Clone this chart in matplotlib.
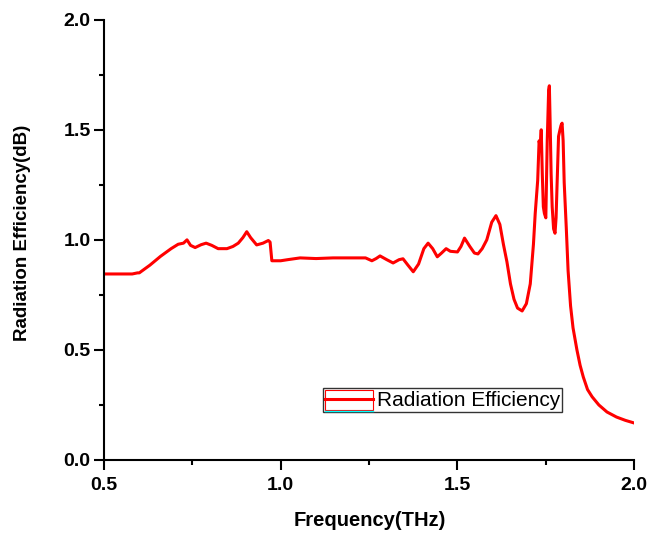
import matplotlib
matplotlib.use("Agg")
import matplotlib.pyplot as plt
import matplotlib.ticker as mticker
from matplotlib.patches import Rectangle
from matplotlib.lines import Line2D

RED = "#ff0000"
CYAN = "#00ffff"

plt.rcParams.update({
    "font.family": ["Liberation Sans", "DejaVu Sans"],
    "axes.linewidth": 1.5,
})

# frequency (THz) and radiation efficiency samples
freq = [
    0.50, 0.55, 0.58, 0.595, 0.60, 0.63, 0.66, 0.69, 0.71, 0.725,
    0.735, 0.745, 0.758, 0.775, 0.789, 0.805, 0.823, 0.848, 0.865, 0.88,
    0.893, 0.904, 0.915, 0.932, 0.95, 0.965, 0.97, 0.975, 1.00, 1.02,
    1.055, 1.10, 1.148, 1.20, 1.24, 1.258, 1.27, 1.281, 1.30, 1.318,
    1.335, 1.346, 1.36, 1.375, 1.39, 1.405, 1.417, 1.43, 1.443, 1.455,
    1.468, 1.48, 1.50, 1.51, 1.52, 1.535, 1.548, 1.558, 1.57, 1.583,
    1.597, 1.609, 1.62, 1.63, 1.64, 1.65, 1.66, 1.67, 1.683, 1.695,
    1.706, 1.715, 1.72, 1.727, 1.731, 1.734, 1.737, 1.740, 1.743, 1.746,
    1.750, 1.754, 1.758, 1.760, 1.762, 1.765, 1.768, 1.772, 1.776, 1.779,
    1.782, 1.786, 1.790, 1.793, 1.796, 1.799, 1.802, 1.808, 1.813, 1.82,
    1.827, 1.838, 1.847, 1.856, 1.868, 1.881, 1.90, 1.923, 1.95, 1.975,
    2.00,
]
efficiency = [
    0.845, 0.845, 0.845, 0.85, 0.85, 0.885, 0.925, 0.96, 0.98, 0.985,
    1.00, 0.975, 0.965, 0.978, 0.985, 0.975, 0.96, 0.96, 0.97, 0.985,
    1.01, 1.037, 1.01, 0.977, 0.985, 0.997, 0.99, 0.905, 0.905, 0.91,
    0.918, 0.915, 0.918, 0.918, 0.918, 0.905, 0.915, 0.927, 0.91, 0.895,
    0.91, 0.914, 0.885, 0.855, 0.89, 0.96, 0.985, 0.96, 0.923, 0.94,
    0.96, 0.948, 0.945, 0.97, 1.008, 0.97, 0.94, 0.936, 0.96, 1.0,
    1.08, 1.11, 1.07, 0.98, 0.90, 0.80, 0.73, 0.69, 0.677, 0.71,
    0.80, 0.98, 1.12, 1.27, 1.45, 1.42, 1.50, 1.30, 1.15, 1.12,
    1.10, 1.45, 1.68, 1.70, 1.55, 1.30, 1.15, 1.05, 1.03, 1.10,
    1.26, 1.47, 1.50, 1.52, 1.53, 1.45, 1.26, 1.05, 0.86, 0.70,
    0.60, 0.50, 0.43, 0.377, 0.32, 0.287, 0.25, 0.218, 0.195, 0.18,
    0.168,
]

x_ticks = [0.5, 1.0, 1.5, 2.0]
y_ticks = [0.0, 0.5, 1.0, 1.5, 2.0]

fig = plt.figure(figsize=(6.62, 5.33), dpi=100)
ax = fig.add_axes([0.157, 0.137, 0.801, 0.826])

ax.plot(freq, efficiency, color=RED, linewidth=2.2, label="Radiation Efficiency")

ax.set_xlim(0.5, 2.0)
ax.set_ylim(0.0, 2.0)
ax.set_xticks(x_ticks)
ax.set_yticks(y_ticks)
ax.xaxis.set_minor_locator(mticker.MultipleLocator(0.25))
ax.yaxis.set_minor_locator(mticker.MultipleLocator(0.25))
ax.xaxis.set_major_formatter(mticker.FormatStrFormatter("%.1f"))
ax.yaxis.set_major_formatter(mticker.FormatStrFormatter("%.1f"))

for spine in ("top", "right"):
    ax.spines[spine].set_visible(False)
ax.tick_params(which="major", direction="out", length=7, width=1.5,
               labelsize=14, pad=2.5)
ax.tick_params(axis="x", which="major", pad=5)
ax.tick_params(which="minor", direction="out", length=3.5, width=1.5)
for lbl in ax.get_xticklabels() + ax.get_yticklabels():
    lbl.set_fontweight("bold")

ax.set_xlabel("Frequency(THz)", fontsize=14.5, fontweight="bold")
ax.set_ylabel("Radiation Efficiency(dB)", fontsize=13.5, fontweight="bold")
ax.xaxis.set_label_coords(0.502, -0.115)
ax.yaxis.set_label_coords(-0.138, 0.515)

leg = ax.legend(loc="lower left", bbox_to_anchor=(0.413, 0.108), fontsize=15,
                frameon=True, fancybox=False, edgecolor="black",
                handlelength=2.26, handletextpad=0.2, borderpad=0.12,
                borderaxespad=0)
leg.get_frame().set_linewidth(1.0)

# boxed legend key: thin red outline round the sample line, cyan underline
fig.canvas.draw()
inv = fig.transFigure.inverted()
hb = leg.legend_handles[0].get_window_extent()
fb = leg.get_frame().get_window_extent()
(x0, y0), (x1, y1) = inv.transform([(hb.x0, fb.y0 + 2), (hb.x1, fb.y1 - 2)])
fig.add_artist(Rectangle((x0, y0), x1 - x0, y1 - y0, transform=fig.transFigure,
                         fill=False, edgecolor=RED, linewidth=0.8, zorder=10))
fig.add_artist(Line2D([x0, x1], [y0 - 0.002, y0 - 0.002], transform=fig.transFigure,
                      color=CYAN, linewidth=1.0, zorder=10))

fig.savefig("out.png", dpi=100)
